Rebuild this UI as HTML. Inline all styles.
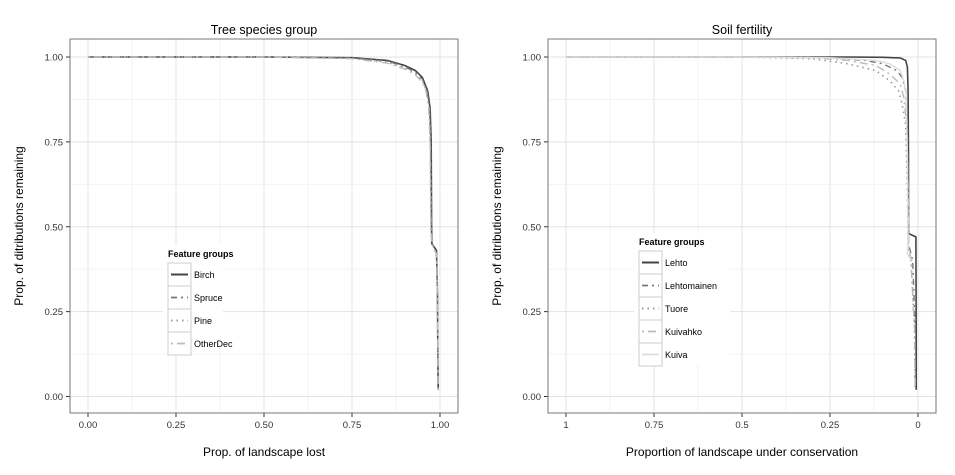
<!DOCTYPE html>
<html><head><meta charset="utf-8"><style>
body{margin:0;background:#fff;font-family:"Liberation Sans",sans-serif}
svg text{font-family:"Liberation Sans",sans-serif}
</style></head><body>
<svg id="c" width="955" height="470" xmlns="http://www.w3.org/2000/svg"></svg>
<script>
// Tree species group: x = prop lost, y = prop remaining
const leftSeries = ["Birch","Spruce","Pine","OtherDec"];
const birchX = [0,0.5,0.75,0.85,0.9,0.93,0.95,0.965,0.972,0.975,0.976,0.977,0.99,0.993,0.994,0.995];
const birchY = [1,1,0.998,0.99,0.975,0.96,0.94,0.9,0.85,0.75,0.5,0.45,0.43,0.3,0.1,0.02];
const spruceX = [0,0.5,0.75,0.85,0.9,0.93,0.95,0.963,0.97,0.973,0.975,0.977,0.99,0.993,0.994,0.995];
const spruceY = [1,1,0.997,0.988,0.972,0.955,0.935,0.9,0.85,0.75,0.5,0.45,0.42,0.3,0.1,0.02];
const pineX = [0,0.5,0.75,0.85,0.9,0.93,0.95,0.962,0.97,0.973,0.975,0.977,0.99,0.993,0.994,0.995];
const pineY = [1,1,0.996,0.985,0.968,0.95,0.93,0.9,0.85,0.75,0.5,0.45,0.42,0.3,0.1,0.01];
const otherX = [0,0.5,0.75,0.85,0.9,0.93,0.95,0.96,0.968,0.972,0.974,0.976,0.99,0.993,0.994,0.995];
const otherY = [1,1,0.995,0.982,0.965,0.948,0.925,0.9,0.85,0.75,0.5,0.45,0.42,0.3,0.1,0.01];
// Soil fertility: x = proportion under conservation
const rightSeries = ["Lehto","Lehtomainen","Tuore","Kuivahko","Kuiva"];
const lehtoX = [1,0.5,0.2,0.1,0.05,0.035,0.03,0.028,0.027,0.027,0.006,0.005,0.005];
const lehtoY = [1,1,1,0.999,0.997,0.99,0.97,0.9,0.7,0.48,0.47,0.2,0.02];
const lehtomX = [1,0.5,0.25,0.15,0.1,0.06,0.045,0.035,0.03,0.028,0.027,0.015,0.008,0.008];
const lehtomY = [1,1,0.998,0.99,0.98,0.96,0.94,0.9,0.8,0.6,0.45,0.4,0.2,0.02];
const tuoreX = [1,0.5,0.3,0.2,0.12,0.08,0.055,0.045,0.035,0.03,0.028,0.02,0.01,0.008];
const tuoreY = [1,1,0.995,0.98,0.96,0.93,0.9,0.86,0.8,0.6,0.45,0.4,0.2,0.03];
const kuivahkoX = [1,0.5,0.3,0.2,0.12,0.08,0.05,0.04,0.032,0.028,0.026,0.02,0.01,0.008];
const kuivahkoY = [1,1,0.998,0.99,0.975,0.95,0.92,0.88,0.8,0.6,0.45,0.4,0.2,0.03];
const kuivaX = [1,0.5,0.25,0.12,0.08,0.05,0.04,0.033,0.03,0.028,0.03,0.025,0.015];
const kuivaY = [1,1,0.998,0.99,0.98,0.96,0.93,0.88,0.7,0.45,0.42,0.41,0.4];
const yTicks = [0,0.25,0.5,0.75,1];
const yTickLabels = ["0.00","0.25","0.50","0.75","1.00"];
const xTicksL = [0,0.25,0.5,0.75,1];
const xTickLabelsL = ["0.00","0.25","0.50","0.75","1.00"];
const xTicksR = [1,0.75,0.5,0.25,0];
const xTickLabelsR = ["1","0.75","0.5","0.25","0"];

const NS="http://www.w3.org/2000/svg";
const svg=document.getElementById('c');
function mk(t,a,p){const e=document.createElementNS(NS,t);for(const k in a)e.setAttribute(k,a[k]);(p||svg).appendChild(e);return e;}
const styles=[
 {stroke:"#444",dash:"",w:1.6},
 {stroke:"#777",dash:"6,4,2,4",w:1.4},
 {stroke:"#999",dash:"1.5,4",w:1.6},
 {stroke:"#bbb",dash:"2,4,8,4",w:1.4},
 {stroke:"#ddd",dash:"",w:1.4}];

function panel(cfg){
 const g=mk('g',{});
 
 
 const L=cfg.left,R=cfg.left+388,T=39,B=413;
 const xs=v=>cfg.x0+(v-cfg.d0)/(cfg.d1-cfg.d0)*(cfg.x1-cfg.x0);
 const ys=v=>396.5-v*339.5;
 for(let i=0;i<yTicks.length-1;i++){const y=ys((yTicks[i]+yTicks[i+1])/2);mk('line',{x1:L,x2:R,y1:y,y2:y,stroke:'#f3f3f3','stroke-width':1},g);}
 for(let i=0;i<cfg.xt.length-1;i++){const x=xs((cfg.xt[i]+cfg.xt[i+1])/2);mk('line',{x1:x,x2:x,y1:T,y2:B,stroke:'#f3f3f3','stroke-width':1},g);}
 yTicks.forEach((v,i)=>{const y=ys(v);
  mk('line',{x1:L,x2:R,y1:y,y2:y,stroke:'#e3e3e3'},g);
  mk('line',{x1:L-4,x2:L,y1:y,y2:y,stroke:'#333'},g);
  const t=mk('text',{x:L-7,y:y+3.5,'text-anchor':'end','font-size':9.5,fill:'#333'},g);t.textContent=yTickLabels[i];
  
  });
 cfg.xt.forEach((v,i)=>{const x=xs(v);
  mk('line',{x1:x,x2:x,y1:T,y2:B,stroke:'#e3e3e3'},g);
  mk('line',{x1:x,x2:x,y1:B,y2:B+4,stroke:'#333'},g);
  const t=mk('text',{x:x,y:B+15,'text-anchor':'middle','font-size':9.5,fill:'#333'},g);t.textContent=cfg.xl[i];
  
  });
 mk('rect',{x:L,y:T,width:R-L,height:B-T,fill:'none',stroke:'#777'},g);
 cfg.series.forEach((s,i)=>{const st=styles[i];
  const d=s.x.map((v,j)=>(j?'L':'M')+xs(v).toFixed(1)+','+ys(s.y[j]).toFixed(1)).join('');
  const p=mk('path',{d:d,fill:'none',stroke:st.stroke,'stroke-width':st.w,'stroke-dasharray':st.dash},g);
  
  });
 let t=mk('text',{x:(L+R)/2,y:34,'text-anchor':'middle','font-size':12.5,fill:'#000'},g);t.textContent=cfg.title;
 
 
 t=mk('text',{x:(L+R)/2,y:456,'text-anchor':'middle','font-size':12,fill:'#000'},g);t.textContent=cfg.xlab;
 
 
 t=mk('text',{x:0,y:0,'text-anchor':'middle','font-size':12,fill:'#000',transform:`translate(${L-47},226) rotate(-90)`},g);t.textContent='Prop. of ditributions remaining';
 
 
 const lg=mk('g',{},g);
 
 
 mk('rect',{x:cfg.lx-5,y:cfg.ly-12,width:cfg.lw,height:16+23*cfg.series.length,fill:'#fff'},lg);
 t=mk('text',{x:cfg.lx,y:cfg.ly,'font-size':9,'font-weight':'bold',fill:'#000'},lg);t.textContent='Feature groups';
 cfg.series.forEach((s,i)=>{const y0=cfg.ly+6+i*23;
  const e=mk('g',{},lg);
  
  
  mk('rect',{x:cfg.lx,y:y0,width:23,height:23,fill:'#fff',stroke:'#ccc'},e);
  const st=styles[i];
  mk('line',{x1:cfg.lx+3,x2:cfg.lx+20,y1:y0+11.5,y2:y0+11.5,stroke:st.stroke,'stroke-width':st.w+0.4,'stroke-dasharray':st.dash},e);
  const tt=mk('text',{x:cfg.lx+26,y:y0+15,'font-size':9,fill:'#000'},e);tt.textContent=s.n;});
}
panel({name:'panel-tree-species',left:70,x0:88,x1:440,d0:0,d1:1,xt:xTicksL,xl:xTickLabelsL,title:'Tree species group',xlab:'Prop. of landscape lost',lx:168,ly:257,lw:60,
 series:[{n:'Birch',x:birchX,y:birchY},{n:'Spruce',x:spruceX,y:spruceY},{n:'Pine',x:pineX,y:pineY},{n:'OtherDec',x:otherX,y:otherY}]});
panel({name:'panel-soil-fertility',left:548,x0:566,x1:918,d0:1,d1:0,xt:xTicksR,xl:xTickLabelsR,title:'Soil fertility',xlab:'Proportion of landscape under conservation',lx:639,ly:245,lw:96,
 series:[{n:'Lehto',x:lehtoX,y:lehtoY},{n:'Lehtomainen',x:lehtomX,y:lehtomY},{n:'Tuore',x:tuoreX,y:tuoreY},{n:'Kuivahko',x:kuivahkoX,y:kuivahkoY},{n:'Kuiva',x:kuivaX,y:kuivaY}]});
</script>
</body></html>
